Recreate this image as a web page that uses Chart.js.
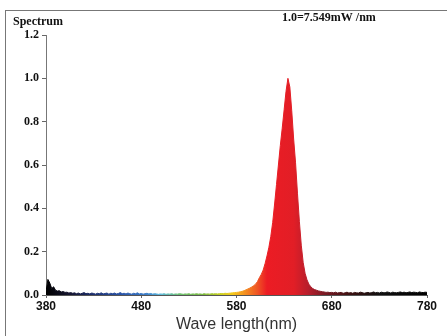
<!DOCTYPE html>
<html>
<head>
<meta charset="utf-8">
<script src="https://cdn.jsdelivr.net/npm/chart.js@4"></script>
<style>
  body { margin: 0; background: #fff; }
  #wrap { position: relative; width: 447px; height: 336px; }
  #frame { position: absolute; left: 5px; top: 10px; right: 0; bottom: 0;
           border-left: 1px solid #777; border-top: 1px solid #777; }
  #c { position: absolute; left: 0; top: 0; }
</style>
</head>
<body>
<div id="wrap">
  <div id="frame"></div>
  <canvas id="c" width="447" height="336"></canvas>
</div>
<script>
// wavelength (nm), 2 nm steps
const wavelengths = [];
for (let w = 380; w <= 780; w += 2) wavelengths.push(w);

// relative intensity
const intensity = [
  0.015, 0.072, 0.055, 0.030, 0.038, 0.022, 0.018, 0.020, 0.014, 0.016, // 380-398
  0.012, 0.013, 0.009, 0.011, 0.008, 0.010, 0.006, 0.009, 0.005, 0.008, // 400-418
  0.011, 0.006, 0.008, 0.005, 0.009, 0.007, 0.004, 0.008, 0.006, 0.010, // 420-438
  0.005, 0.007, 0.009, 0.004, 0.008, 0.006, 0.009, 0.005, 0.007, 0.011, // 440-458
  0.006, 0.008, 0.005, 0.009, 0.006, 0.004, 0.008, 0.006, 0.010, 0.005, // 460-478
  0.007, 0.004, 0.006, 0.008, 0.005, 0.007, 0.004, 0.006, 0.005, 0.003, // 480-498
  0.005, 0.004, 0.006, 0.003, 0.005, 0.004, 0.006, 0.003, 0.005, 0.004, // 500-518
  0.006, 0.005, 0.003, 0.005, 0.004, 0.006, 0.003, 0.005, 0.004, 0.006, // 520-538
  0.004, 0.005, 0.003, 0.006, 0.004, 0.005, 0.004, 0.006, 0.005, 0.006, // 540-558
  0.005, 0.006, 0.007, 0.006, 0.008, 0.007, 0.008, 0.009, 0.010, 0.011, // 560-578
  0.012, 0.013, 0.015, 0.017, 0.020, 0.024, 0.028, 0.032, 0.037, 0.043, // 580-598
  0.050, 0.062, 0.080, 0.095, 0.115, 0.145, 0.180, 0.220, 0.270, 0.335, // 600-618
  0.420, 0.510, 0.600, 0.690, 0.770, 0.855, 0.940, 1.000, 0.960, 0.850, // 620-638
  0.720, 0.610, 0.470, 0.340, 0.230, 0.150, 0.100, 0.070, 0.050, 0.038, // 640-658
  0.030, 0.025, 0.022, 0.019, 0.017, 0.015, 0.014, 0.012, 0.013, 0.011, // 660-678
  0.012, 0.010, 0.013, 0.009, 0.011, 0.012, 0.008, 0.010, 0.013, 0.009, // 680-698
  0.011, 0.008, 0.012, 0.010, 0.009, 0.013, 0.011, 0.008, 0.010, 0.012, // 700-718
  0.009, 0.011, 0.014, 0.010, 0.012, 0.009, 0.013, 0.011, 0.010, 0.014, // 720-738
  0.012, 0.009, 0.013, 0.011, 0.010, 0.012, 0.014, 0.011, 0.013, 0.010, // 740-758
  0.012, 0.014, 0.011, 0.013, 0.012, 0.010, 0.014, 0.012, 0.011, 0.013, // 760-778
  0.012                                                                   // 780
];

const xTicks = [380, 480, 580, 680, 780];
const yTicks = [0, 0.2, 0.4, 0.6, 0.8, 1.0, 1.2];

// spectral colouring of the fill
const stopWl    = [380, 405, 430, 460, 485, 500, 520, 545, 563, 576, 590, 602, 612, 640, 655, 672, 700, 730, 780];
const stopColor = ['#000000', '#151530', '#1c2f6e', '#2a55a8', '#3a7cc8', '#5ab8dc', '#6cc070', '#78b83c',
                   '#c8d020', '#f5c81a', '#f38a20', '#ef5424', '#ec1c24', '#e21e26', '#b81e2c', '#7a1a24',
                   '#3a1010', '#111111', '#000000'];

function spectrumFill(context) {
  const chart = context.chart;
  const area = chart.chartArea;
  if (!area) return null;
  const x = chart.scales.x;
  const g = chart.ctx.createLinearGradient(area.left, 0, area.right, 0);
  stopWl.forEach((w, i) => {
    g.addColorStop((x.getPixelForValue(w) - area.left) / (area.right - area.left), stopColor[i]);
  });
  return g;
}

const headerText = {
  id: 'headerText',
  afterDraw(chart) {
    const ctx = chart.ctx;
    ctx.save();
    ctx.fillStyle = '#111';
    ctx.font = 'bold 12px "Liberation Serif"';
    ctx.textBaseline = 'alphabetic';
    ctx.fillText('Spectrum', 13, 25);
    ctx.fillText('1.0=7.549mW /nm', 282, 21);
    ctx.restore();
  }
};

new Chart(document.getElementById('c'), {
  type: 'line',
  data: {
    datasets: [{
      data: wavelengths.map((w, i) => ({ x: w, y: intensity[i] })),
      borderColor: spectrumFill,
      backgroundColor: spectrumFill,
      borderWidth: 1,
      pointRadius: 0,
      fill: 'origin',
      tension: 0
    }]
  },
  options: {
    responsive: false,
    animation: false,
    layout: { padding: { left: 0, top: 35, right: 20, bottom: 0 } },
    plugins: { legend: { display: false }, tooltip: { enabled: false } },
    scales: {
      x: {
        type: 'linear',
        min: 380,
        max: 780,
        afterBuildTicks: s => { s.ticks = xTicks.map(v => ({ value: v })); },
        afterFit: s => { s.height = 41; },
        grid: { drawOnChartArea: false, drawTicks: true, tickLength: 3, color: '#666' },
        border: { display: true, color: '#555' },
        ticks: { color: '#111', padding: 1, font: { family: '"Liberation Sans"', weight: 'bold', size: 12 } },
        title: {
          display: true,
          text: 'Wave length(nm)',
          color: '#333',
          padding: { top: 0, bottom: 2 },
          font: { family: '"Liberation Sans"', size: 16 }
        }
      },
      y: {
        min: 0,
        max: 1.2,
        afterBuildTicks: s => { s.ticks = yTicks.map(v => ({ value: v })); },
        afterFit: s => { s.width = 46; },
        grid: { drawOnChartArea: false, drawTicks: true, tickLength: 4, color: '#666' },
        border: { display: true, color: '#777' },
        ticks: {
          color: '#111',
          padding: 3,
          callback: v => v.toFixed(1),
          font: { family: '"Liberation Serif"', weight: 'bold', size: 12 }
        }
      }
    }
  },
  plugins: [headerText]
});
</script>
</body>
</html>
